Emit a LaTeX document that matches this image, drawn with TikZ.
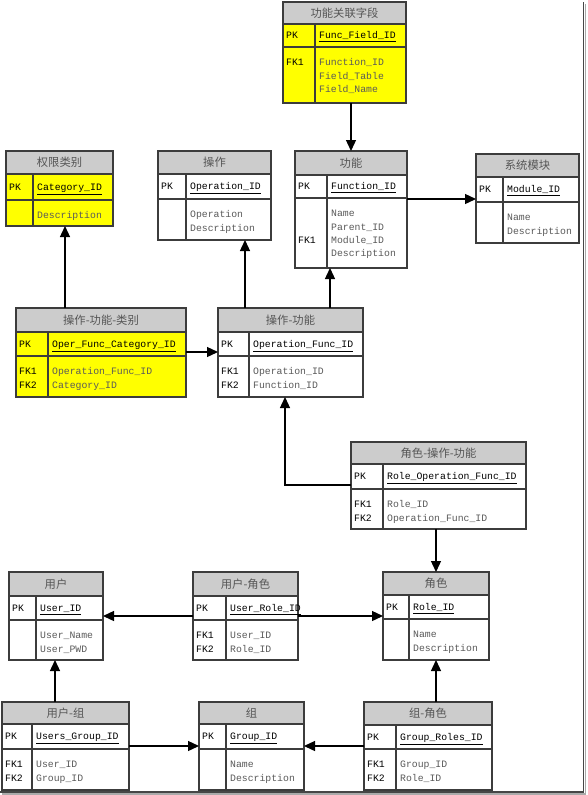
\documentclass[tikz,border=0pt]{standalone}
\usepackage{fontspec}
\setmonofont{Liberation Mono}
\newfontfamily\cjk{Noto Sans CJK SC}
\usetikzlibrary{arrows.meta,calc}
\definecolor{hdrgray}{RGB}{204,204,204}
\definecolor{tlinec}{RGB}{60,60,60}
\definecolor{fldgray}{RGB}{90,90,90}
\definecolor{hdrtxtc}{RGB}{85,85,85}
\definecolor{pureyellow}{RGB}{255,255,0}
\tikzset{
  tbox/.style={draw=none,inner sep=0pt,outer sep=0pt},
  hdr/.style={fill=hdrgray},
  tline/.style={draw=tlinec,line width=1.15pt},
  hdrtxt/.style={font=\cjk\fontsize{11.3}{13}\selectfont,text=hdrtxtc,anchor=base,inner sep=0pt,yshift=-4.1pt},
  keytxt/.style={font=\ttfamily\fontsize{9.8}{11}\selectfont,text=black,anchor=base west,inner sep=0pt,yshift=-3.4pt},
  pktxt/.style={font=\ttfamily\fontsize{9.8}{11}\selectfont,text=black,anchor=base west,inner sep=0pt,yshift=-3.4pt},
  fldtxt/.style={font=\ttfamily\fontsize{9.8}{11}\selectfont,text=fldgray,anchor=base west,inner sep=0pt,yshift=-3.4pt},
  conn/.style={draw=black,line width=1.3pt,-{Triangle[length=11pt,width=10pt]}},
  framec/.style={draw={rgb,255:red,70;green,70;blue,70},line width=1.6pt},
  frames/.style={draw={rgb,255:red,170;green,170;blue,170},line width=1.4pt}
}
% #1 name #2 l #3 t #4 r #5 b #6 divider #7 header bottom #8 pk bottom #9 fill
\newcommand\ertab[9]{%
  \node[tbox,fill=#9,minimum width={(#4-#2)*1pt},minimum height={(#5-#3)*1pt},anchor=north west] (#1) at (#2,-#3) {};
  \fill[hdr] (#2,-#3) rectangle (#4,-#7);
  \draw[tline] (#2,-#7) -- (#4,-#7) (#2,-#8) -- (#4,-#8) (#6,-#7) -- (#6,-#5);
  \draw[tline] (#1.north west) rectangle (#1.south east);
  \coordinate (#1-hd) at ({(#2+#4)/2},{-(#3+#7)/2});
  \coordinate (#1-pk) at ({#2+3},{-(#7+#8)/2});
  \coordinate (#1-pf) at ({#6+4},{-(#7+#8)/2});
  \coordinate (#1-bk) at ({#2+3},{-#8-15.5});
  \coordinate (#1-bf) at ({#6+4},{-#8-15.5});
}
\newcommand\ertxt[4]{%
  \node[hdrtxt] (#1-title) at (#1-hd) {#2};
  \node[keytxt] (#1-pkl) at (#1-pk) {PK};
  \node[pktxt] (#1-pkf) at (#1-pf) {\underline{#3}};
  \foreach \f [count=\i from 0] in {#4} {\node[fldtxt] (#1-f\i) at ($(#1-bf)+(0,-\i*13.3)$) {\f};}
}
\newcommand\erkeys[2]{%
  \foreach \i/\k in {#2} {\node[keytxt] (#1-k\i) at ($(#1-bk)+(0,-\i*13.3)$) {\k};}
}
\begin{document}
\begin{tikzpicture}[x=1pt,y=1pt]
\useasboundingbox (0,0) rectangle (587,-795);
\fill[white] (0,0) rectangle (587,-795);
% frame shadow
\draw[frames] (585.6,-4) -- (585.6,-793.8) -- (2,-793.8);
\draw[framec] (583.5,-2) -- (583.5,-791.8) -- (0,-791.8);

\ertab{ffield}{283}{2}{406}{103}{315}{24}{47}{pureyellow}
\ertxt{ffield}{功能关联字段}{Func\_Field\_ID}{Function\_ID,Field\_Table,Field\_Name}
\erkeys{ffield}{0/FK1}

\ertab{cat}{6}{151}{113}{226}{33}{174}{200}{pureyellow}
\ertxt{cat}{权限类别}{Category\_ID}{Description}

\ertab{op}{158}{151}{271}{240}{186}{174}{199}{white}
\ertxt{op}{操作}{Operation\_ID}{Operation,Description}

\ertab{func}{295}{151}{407}{268}{327}{175}{198}{white}
\ertxt{func}{功能}{Function\_ID}{Name,Parent\_ID,Module\_ID,Description}
\erkeys{func}{2/FK1}

\ertab{module}{476}{154}{579}{243}{503}{177}{202}{white}
\ertxt{module}{系统模块}{Module\_ID}{Name,Description}

\ertab{opfc}{16}{308}{186}{397}{48}{332}{356}{pureyellow}
\ertxt{opfc}{操作-功能-类别}{Oper\_Func\_Category\_ID}{Operation\_Func\_ID,Category\_ID}
\erkeys{opfc}{0/FK1,1/FK2}

\ertab{opf}{218}{308}{363}{397}{249}{332}{356}{white}
\ertxt{opf}{操作-功能}{Operation\_Func\_ID}{Operation\_ID,Function\_ID}
\erkeys{opf}{0/FK1,1/FK2}

\ertab{rof}{351}{442}{526}{529}{383}{464}{489}{white}
\ertxt{rof}{角色-操作-功能}{Role\_Operation\_Func\_ID}{Role\_ID,Operation\_Func\_ID}
\erkeys{rof}{0/FK1,1/FK2}

\ertab{user}{9}{572}{103}{660}{36}{596}{620}{white}
\ertxt{user}{用户}{User\_ID}{User\_Name,User\_PWD}

\ertab{ur}{193}{572}{298}{660}{226}{596}{620}{white}
\ertxt{ur}{用户-角色}{User\_Role\_ID}{User\_ID,Role\_ID}
\erkeys{ur}{0/FK1,1/FK2}

\ertab{role}{383}{572}{489}{660}{409}{595}{619}{white}
\ertxt{role}{角色}{Role\_ID}{Name,Description}

\ertab{ug}{2}{702}{129}{790}{32}{724}{749}{white}
\ertxt{ug}{用户-组}{Users\_Group\_ID}{User\_ID,Group\_ID}
\erkeys{ug}{0/FK1,1/FK2}

\ertab{grp}{199}{702}{304}{790}{226}{724}{749}{white}
\ertxt{grp}{组}{Group\_ID}{Name,Description}

\ertab{gr}{364}{702}{492}{790}{396}{725}{749}{white}
\ertxt{gr}{组-角色}{Group\_Roles\_ID}{Group\_ID,Role\_ID}
\erkeys{gr}{0/FK1,1/FK2}

% connectors
\draw[conn] (351,0 |- ffield.south) -- (351,0 |- func.north);
\draw[conn] (func.east |- 0,-199) -- (module.west |- 0,-199);
\draw[conn] (65,0 |- opfc.north) -- (65,0 |- cat.south);
\draw[conn] (opfc.east |- 0,-352) -- (opf.west |- 0,-352);
\draw[conn] (245,0 |- opf.north) -- (245,0 |- op.south);
\draw[conn] (330,0 |- opf.north) -- (330,0 |- func.south);
\draw[conn] (rof.west |- 0,-485) -| (285,0 |- opf.south);
\draw[conn] (436,0 |- rof.south) -- (436,0 |- role.north);
\draw[conn] (ur.west |- 0,-616) -- (user.east |- 0,-616);
\draw[conn] (ur.east |- 0,-616) -- (role.west |- 0,-616);
\draw[conn] (55,0 |- ug.north) -- (55,0 |- user.south);
\draw[conn] (ug.east |- 0,-746) -- (grp.west |- 0,-746);
\draw[conn] (gr.west |- 0,-746) -- (grp.east |- 0,-746);
\draw[conn] (436,0 |- gr.north) -- (436,0 |- role.south);
\end{tikzpicture}
\end{document}
